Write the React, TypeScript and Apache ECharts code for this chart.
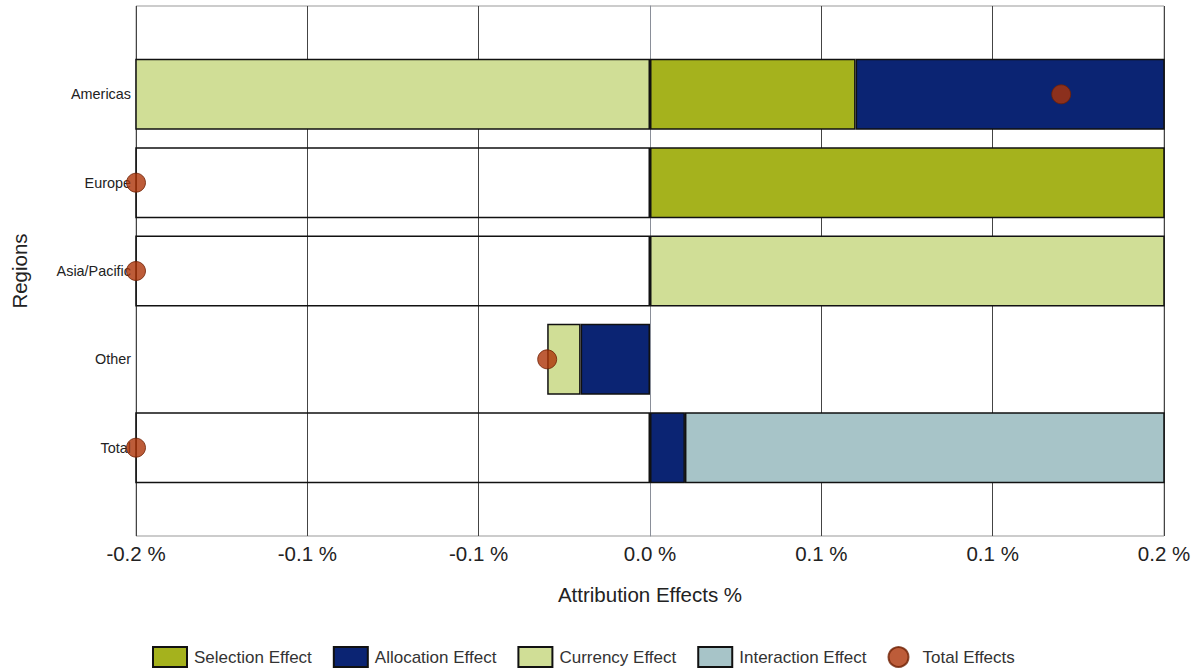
import React, { useEffect, useRef } from "react";
import * as echarts from "echarts";

const regions = ["Americas", "Europe", "Asia/Pacific", "Other", "Total"];
const selectionEffect = [0.08, 0.28, null, null, null];
const allocationEffect = [0.3, null, null, -0.027, 0.0136];
const currencyEffect = [-0.22, null, 0.26, -0.013, null];
const interactionEffect = [null, null, null, null, 0.26];
const residualEffect = [null, -0.26, -0.26, null, -0.26];
const totalEffects = [0.16, -0.2, -0.2, -0.04, -0.2];
const xMin = -0.2;
const xMax = 0.2;

const FONT = '"Liberation Sans", Arial, sans-serif';

export default function App() {
  const ref = useRef<HTMLDivElement>(null);
  useEffect(() => {
    if (!ref.current) return;
    const chart = echarts.init(ref.current, undefined, { renderer: "svg" });
    const yData = ["", ...regions, ""];
    const pad = (arr: (number | null)[]) => [null, ...arr, null];
    const barCommon = {
      type: "bar" as const,
      stack: "eff",
      barWidth: 71,
      emphasis: { disabled: true },
    };
    const border = { borderColor: "#111", borderWidth: 1.5 };
    chart.setOption({
      animation: false,
      textStyle: { fontFamily: FONT },
      grid: {
        left: 136,
        right: 31,
        top: 6,
        bottom: 135,
        show: true,
        borderColor: "#999",
        borderWidth: 1,
        backgroundColor: "#fff",
        outerBoundsMode: "none",
      },
      legend: {
        data: [
          { name: "Selection Effect", icon: "rect" },
          { name: "Allocation Effect", icon: "rect" },
          { name: "Currency Effect", icon: "rect" },
          { name: "Interaction Effect", icon: "rect" },
          { name: "Total Effects", icon: "circle" },
        ],
        left: 147,
        top: 641,
        itemWidth: 34,
        itemHeight: 20,
        itemGap: 21,
        textStyle: { fontSize: 17, color: "#333", fontFamily: FONT, padding: [0, 0, 0, 2] },
      },
      xAxis: {
        type: "value",
        min: xMin,
        max: xMax,
        interval: (xMax - xMin) / 6,
        axisLine: { show: false },
        axisTick: { show: false },
        splitLine: { show: true, lineStyle: { color: "#444", width: 1 } },
        axisLabel: {
          fontSize: 20.5,
          color: "#222",
          margin: 7,
          fontFamily: FONT,
          formatter: (v: number) => (Math.abs(v) < 1e-9 ? 0 : v).toFixed(1) + " %",
        },
        name: "Attribution Effects %",
        nameLocation: "middle",
        nameGap: 48,
        nameTextStyle: { fontSize: 20.5, color: "#222", fontFamily: FONT },
      },
      yAxis: {
        type: "category",
        data: yData,
        inverse: true,
        boundaryGap: false,
        axisLine: { show: true, lineStyle: { color: "#8a8f99", width: 1 } },
        axisTick: { show: false },
        splitLine: { show: false },
        axisLabel: { fontSize: 14.4, color: "#222", margin: 5, interval: 0, fontFamily: FONT },
        name: "Regions",
        nameLocation: "middle",
        nameGap: 106,
        nameTextStyle: { fontSize: 20.5, color: "#222", fontFamily: FONT },
      },
      series: [
        { ...barCommon, name: "Selection Effect", data: pad(selectionEffect), itemStyle: { color: "#a5b21d", ...border } },
        { ...barCommon, name: "Allocation Effect", data: pad(allocationEffect), itemStyle: { color: "#0b2473", ...border } },
        { ...barCommon, name: "Currency Effect", data: pad(currencyEffect), itemStyle: { color: "#d0de96", ...border } },
        { ...barCommon, name: "Interaction Effect", data: pad(interactionEffect), itemStyle: { color: "#a7c4c8", ...border } },
        { ...barCommon, name: "Residual", data: pad(residualEffect), itemStyle: { color: "rgba(0,0,0,0)", ...border } },
        {
          type: "scatter",
          name: "Total Effects",
          data: pad(totalEffects),
          symbolSize: 19,
          clip: false,
          z: 5,
          itemStyle: { color: "#ad3308", borderColor: "#6e2004", borderWidth: 1 },
          emphasis: { disabled: true },
        },
      ],
    });
    return () => chart.dispose();
  }, []);
  return (
    <div
      ref={ref}
      style={{ position: "absolute", left: 0, top: 0, width: 1195, height: 671, background: "#fff" }}
    />
  );
}
